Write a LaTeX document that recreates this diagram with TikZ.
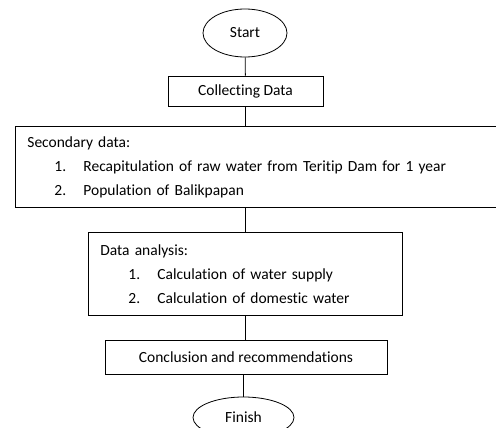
\documentclass[tikz,border=0pt]{standalone}
\usepackage{fontspec}
\setmainfont{Carlito}[Ligatures={NoCommon}]
\usetikzlibrary{shapes.geometric}
\begin{document}
\begin{tikzpicture}[x=1pt,y=-1pt,line width=0.8pt,
  every node/.style={font=\fontsize{15.5}{24}\selectfont},
  box/.style={draw,rectangle,inner sep=0pt},
  oval/.style={draw,ellipse,inner sep=0pt},
  listbox/.style={draw,rectangle,inner ysep=0pt,inner xsep=12pt,align=left,anchor=north west},
  conn/.style={draw}]
\clip (0,0) rectangle (496,428);
\fill[white] (0,0) rectangle (496,428);
\node[oval,minimum width=84pt,minimum height=48pt] (start) at (245,33) {Start};
\node[box,minimum width=155pt,minimum height=30pt] (collect) at (245.5,91) {Collecting Data};
\node[listbox,text width=466pt,minimum height=81pt] (sec) at (15,126)
  {Secondary data:\\
   \hspace*{27pt}\makebox[29pt][l]{1.}Recapitulation of raw water from Teritip Dam for 1 year\\
   \hspace*{27pt}\makebox[29pt][l]{2.}Population of Balikpapan};
\node[listbox,text width=290pt,minimum height=83pt] (ana) at (88,232)
  {Data analysis:\\
   \hspace*{28pt}\makebox[29pt][l]{1.}Calculation of water supply\\
   \hspace*{28pt}\makebox[29pt][l]{2.}Calculation of domestic water};
\node[box,minimum width=282pt,minimum height=34pt] (concl) at (246,357) {Conclusion and recommendations};
\node[oval,minimum width=101pt,minimum height=41pt] (finish) at (243.5,417.5) {Finish};
\draw[conn] (start) -- (collect);
\draw[conn] (collect.south) -- (collect.south |- sec.north);
\draw[conn] (collect.south |- sec.south) -- (collect.south |- ana.north);
\draw[conn] (collect.south |- ana.south) -- (collect.south |- concl.north);
\draw[conn] (concl.south -| finish.north) -- (finish.north);
\end{tikzpicture}
\end{document}
